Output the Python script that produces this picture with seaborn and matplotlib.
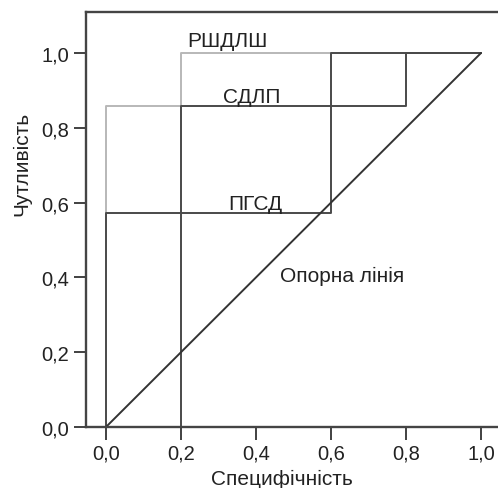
import matplotlib
matplotlib.use('Agg')
import matplotlib.pyplot as plt
import seaborn as sns

# ROC-криві
pgsd_x = [0.0, 0.0, 0.6, 0.6, 1.0]
pgsd_y = [0.0, 0.571, 0.571, 1.0, 1.0]

sdlp_x = [0.0, 0.2, 0.2, 0.8, 0.8, 1.0]
sdlp_y = [0.0, 0.0, 0.857, 0.857, 1.0, 1.0]

rshdlsh_x = [0.0, 0.0, 0.2, 0.2, 1.0]
rshdlsh_y = [0.0, 0.857, 0.857, 1.0, 1.0]

ref_x = [0.0, 1.0]
ref_y = [0.0, 1.0]

ticks = [0.0, 0.2, 0.4, 0.6, 0.8, 1.0]
tick_labels = ['0,0', '0,2', '0,4', '0,6', '0,8', '1,0']


def main():
    sns.set_style('white')
    plt.rcParams['font.family'] = ['Liberation Sans', 'DejaVu Sans']

    fig = plt.figure(figsize=(4.98, 4.89), dpi=100)
    ax = fig.add_axes([86 / 498, 61 / 489, 412 / 498, 415 / 489])

    light = '#b8b8b8'
    dark = '#4a4a4a'
    sns.lineplot(x=rshdlsh_x, y=rshdlsh_y, sort=False, estimator=None,
                 color=light, linewidth=1.4, ax=ax)
    sns.lineplot(x=sdlp_x, y=sdlp_y, sort=False, estimator=None,
                 color=dark, linewidth=1.4, ax=ax)
    sns.lineplot(x=pgsd_x, y=pgsd_y, sort=False, estimator=None,
                 color=dark, linewidth=1.4, ax=ax)
    sns.lineplot(x=ref_x, y=ref_y, sort=False, estimator=None,
                 color='#333333', linewidth=1.4, ax=ax)

    fs = 15
    ax.text(0.216, 1.020, 'РШДЛШ', fontsize=fs, color='#222222')
    ax.text(0.312, 0.869, 'СДЛП', fontsize=fs, color='#222222')
    ax.text(0.325, 0.583, 'ПГСД', fontsize=fs, color='#222222')
    ax.text(0.464, 0.404, 'Опорна лінія', fontsize=fs, color='#222222', va='center')

    ax.set_xlim(-0.0533, 1.0453)
    ax.set_ylim(0, 1.1096)
    ax.set_xticks(ticks)
    ax.set_xticklabels(tick_labels)
    ax.set_yticks(ticks)
    ax.set_yticklabels(tick_labels)
    ax.tick_params(axis='both', direction='out', length=9, width=1.3,
                   bottom=True, left=True,
                   colors='#333333', labelcolor='#222222', labelsize=14.5, pad=3)

    for side in ['left', 'bottom', 'top']:
        ax.spines[side].set_color('#444444')
        ax.spines[side].set_linewidth(1.7)
    ax.spines['right'].set_visible(False)

    ax.set_xlabel('Специфічність', fontsize=fs, color='#222222')
    ax.set_ylabel('Чутливість', fontsize=fs, color='#222222')
    ax.xaxis.set_label_coords(0.476, -0.101)
    ax.yaxis.set_label_coords(-0.133, 0.636)

    fig.savefig('out.png', dpi=100)


if __name__ == '__main__':
    main()
